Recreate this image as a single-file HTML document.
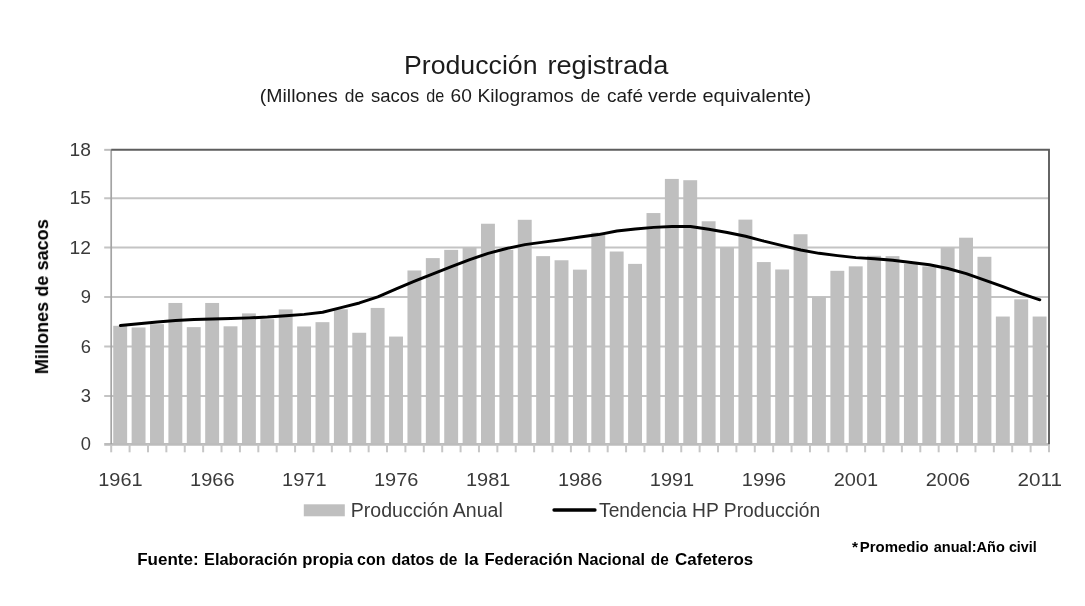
<!DOCTYPE html>
<html lang="es"><head><meta charset="utf-8"><title>Producción registrada</title>
<style>html,body{margin:0;padding:0;background:#fff}body{width:1085px;height:606px;overflow:hidden}svg{display:block}text{font-family:"Liberation Sans",sans-serif}</style></head><body>
<svg width="1085" height="606" viewBox="0 0 1085 606">
<rect width="1085" height="606" fill="#fff"/>
<line x1="104.2" y1="396.10" x2="1049.0" y2="396.10" stroke="#c4c4c4" stroke-width="2"/>
<line x1="104.2" y1="346.60" x2="1049.0" y2="346.60" stroke="#c4c4c4" stroke-width="2"/>
<line x1="104.2" y1="296.95" x2="1049.0" y2="296.95" stroke="#c4c4c4" stroke-width="2"/>
<line x1="104.2" y1="247.50" x2="1049.0" y2="247.50" stroke="#c4c4c4" stroke-width="2"/>
<line x1="104.2" y1="198.20" x2="1049.0" y2="198.20" stroke="#c4c4c4" stroke-width="2"/>
<rect x="113.24" y="325.81" width="13.9" height="118.49" fill="#bfbfbf"/>
<rect x="131.63" y="327.47" width="13.9" height="116.83" fill="#bfbfbf"/>
<rect x="150.02" y="324.16" width="13.9" height="120.14" fill="#bfbfbf"/>
<rect x="168.41" y="302.97" width="13.9" height="141.33" fill="#bfbfbf"/>
<rect x="186.80" y="327.14" width="13.9" height="117.16" fill="#bfbfbf"/>
<rect x="205.19" y="302.97" width="13.9" height="141.33" fill="#bfbfbf"/>
<rect x="223.57" y="326.31" width="13.9" height="117.99" fill="#bfbfbf"/>
<rect x="241.96" y="313.40" width="13.9" height="130.90" fill="#bfbfbf"/>
<rect x="260.35" y="319.19" width="13.9" height="125.11" fill="#bfbfbf"/>
<rect x="278.74" y="309.43" width="13.9" height="134.87" fill="#bfbfbf"/>
<rect x="297.13" y="326.47" width="13.9" height="117.83" fill="#bfbfbf"/>
<rect x="315.51" y="322.17" width="13.9" height="122.13" fill="#bfbfbf"/>
<rect x="333.90" y="309.26" width="13.9" height="135.04" fill="#bfbfbf"/>
<rect x="352.29" y="332.76" width="13.9" height="111.54" fill="#bfbfbf"/>
<rect x="370.68" y="307.94" width="13.9" height="136.36" fill="#bfbfbf"/>
<rect x="389.07" y="336.57" width="13.9" height="107.73" fill="#bfbfbf"/>
<rect x="407.46" y="270.48" width="13.9" height="173.82" fill="#bfbfbf"/>
<rect x="425.84" y="258.11" width="13.9" height="186.19" fill="#bfbfbf"/>
<rect x="444.23" y="249.87" width="13.9" height="194.43" fill="#bfbfbf"/>
<rect x="462.62" y="247.40" width="13.9" height="196.90" fill="#bfbfbf"/>
<rect x="481.01" y="223.74" width="13.9" height="220.56" fill="#bfbfbf"/>
<rect x="499.40" y="249.87" width="13.9" height="194.43" fill="#bfbfbf"/>
<rect x="517.79" y="219.79" width="13.9" height="224.51" fill="#bfbfbf"/>
<rect x="536.17" y="256.14" width="13.9" height="188.16" fill="#bfbfbf"/>
<rect x="554.56" y="260.26" width="13.9" height="184.04" fill="#bfbfbf"/>
<rect x="572.95" y="269.65" width="13.9" height="174.65" fill="#bfbfbf"/>
<rect x="591.34" y="232.61" width="13.9" height="211.69" fill="#bfbfbf"/>
<rect x="609.73" y="251.52" width="13.9" height="192.78" fill="#bfbfbf"/>
<rect x="628.11" y="263.88" width="13.9" height="180.42" fill="#bfbfbf"/>
<rect x="646.50" y="213.05" width="13.9" height="231.25" fill="#bfbfbf"/>
<rect x="664.89" y="178.92" width="13.9" height="265.38" fill="#bfbfbf"/>
<rect x="683.28" y="180.21" width="13.9" height="264.09" fill="#bfbfbf"/>
<rect x="701.67" y="221.27" width="13.9" height="223.03" fill="#bfbfbf"/>
<rect x="720.06" y="247.40" width="13.9" height="196.90" fill="#bfbfbf"/>
<rect x="738.44" y="219.63" width="13.9" height="224.67" fill="#bfbfbf"/>
<rect x="756.83" y="262.07" width="13.9" height="182.23" fill="#bfbfbf"/>
<rect x="775.22" y="269.49" width="13.9" height="174.81" fill="#bfbfbf"/>
<rect x="793.61" y="234.25" width="13.9" height="210.05" fill="#bfbfbf"/>
<rect x="812.00" y="296.85" width="13.9" height="147.45" fill="#bfbfbf"/>
<rect x="830.39" y="270.81" width="13.9" height="173.49" fill="#bfbfbf"/>
<rect x="848.77" y="266.36" width="13.9" height="177.94" fill="#bfbfbf"/>
<rect x="867.16" y="255.81" width="13.9" height="188.49" fill="#bfbfbf"/>
<rect x="885.55" y="256.14" width="13.9" height="188.16" fill="#bfbfbf"/>
<rect x="903.94" y="263.88" width="13.9" height="180.42" fill="#bfbfbf"/>
<rect x="922.33" y="266.36" width="13.9" height="177.94" fill="#bfbfbf"/>
<rect x="940.71" y="247.40" width="13.9" height="196.90" fill="#bfbfbf"/>
<rect x="959.10" y="237.70" width="13.9" height="206.60" fill="#bfbfbf"/>
<rect x="977.49" y="256.80" width="13.9" height="187.50" fill="#bfbfbf"/>
<rect x="995.88" y="316.54" width="13.9" height="127.76" fill="#bfbfbf"/>
<rect x="1014.27" y="299.33" width="13.9" height="144.97" fill="#bfbfbf"/>
<rect x="1032.66" y="316.54" width="13.9" height="127.76" fill="#bfbfbf"/>
<line x1="104.2" y1="444.40" x2="1049.0" y2="444.40" stroke="#bcbcbc" stroke-width="2.6"/>
<line x1="104.2" y1="149.85" x2="111.2" y2="149.85" stroke="#bdbdbd" stroke-width="2"/>
<line x1="111.2" y1="149.75" x2="111.2" y2="445.30" stroke="#a4a4a4" stroke-width="1.7"/>
<line x1="111.20" y1="444.30" x2="111.20" y2="452.30" stroke="#c6c6c6" stroke-width="2"/>
<line x1="129.59" y1="444.30" x2="129.59" y2="452.30" stroke="#c6c6c6" stroke-width="2"/>
<line x1="147.98" y1="444.30" x2="147.98" y2="452.30" stroke="#c6c6c6" stroke-width="2"/>
<line x1="166.36" y1="444.30" x2="166.36" y2="452.30" stroke="#c6c6c6" stroke-width="2"/>
<line x1="184.75" y1="444.30" x2="184.75" y2="452.30" stroke="#c6c6c6" stroke-width="2"/>
<line x1="203.14" y1="444.30" x2="203.14" y2="452.30" stroke="#c6c6c6" stroke-width="2"/>
<line x1="221.53" y1="444.30" x2="221.53" y2="452.30" stroke="#c6c6c6" stroke-width="2"/>
<line x1="239.92" y1="444.30" x2="239.92" y2="452.30" stroke="#c6c6c6" stroke-width="2"/>
<line x1="258.31" y1="444.30" x2="258.31" y2="452.30" stroke="#c6c6c6" stroke-width="2"/>
<line x1="276.69" y1="444.30" x2="276.69" y2="452.30" stroke="#c6c6c6" stroke-width="2"/>
<line x1="295.08" y1="444.30" x2="295.08" y2="452.30" stroke="#c6c6c6" stroke-width="2"/>
<line x1="313.47" y1="444.30" x2="313.47" y2="452.30" stroke="#c6c6c6" stroke-width="2"/>
<line x1="331.86" y1="444.30" x2="331.86" y2="452.30" stroke="#c6c6c6" stroke-width="2"/>
<line x1="350.25" y1="444.30" x2="350.25" y2="452.30" stroke="#c6c6c6" stroke-width="2"/>
<line x1="368.64" y1="444.30" x2="368.64" y2="452.30" stroke="#c6c6c6" stroke-width="2"/>
<line x1="387.02" y1="444.30" x2="387.02" y2="452.30" stroke="#c6c6c6" stroke-width="2"/>
<line x1="405.41" y1="444.30" x2="405.41" y2="452.30" stroke="#c6c6c6" stroke-width="2"/>
<line x1="423.80" y1="444.30" x2="423.80" y2="452.30" stroke="#c6c6c6" stroke-width="2"/>
<line x1="442.19" y1="444.30" x2="442.19" y2="452.30" stroke="#c6c6c6" stroke-width="2"/>
<line x1="460.58" y1="444.30" x2="460.58" y2="452.30" stroke="#c6c6c6" stroke-width="2"/>
<line x1="478.96" y1="444.30" x2="478.96" y2="452.30" stroke="#c6c6c6" stroke-width="2"/>
<line x1="497.35" y1="444.30" x2="497.35" y2="452.30" stroke="#c6c6c6" stroke-width="2"/>
<line x1="515.74" y1="444.30" x2="515.74" y2="452.30" stroke="#c6c6c6" stroke-width="2"/>
<line x1="534.13" y1="444.30" x2="534.13" y2="452.30" stroke="#c6c6c6" stroke-width="2"/>
<line x1="552.52" y1="444.30" x2="552.52" y2="452.30" stroke="#c6c6c6" stroke-width="2"/>
<line x1="570.91" y1="444.30" x2="570.91" y2="452.30" stroke="#c6c6c6" stroke-width="2"/>
<line x1="589.29" y1="444.30" x2="589.29" y2="452.30" stroke="#c6c6c6" stroke-width="2"/>
<line x1="607.68" y1="444.30" x2="607.68" y2="452.30" stroke="#c6c6c6" stroke-width="2"/>
<line x1="626.07" y1="444.30" x2="626.07" y2="452.30" stroke="#c6c6c6" stroke-width="2"/>
<line x1="644.46" y1="444.30" x2="644.46" y2="452.30" stroke="#c6c6c6" stroke-width="2"/>
<line x1="662.85" y1="444.30" x2="662.85" y2="452.30" stroke="#c6c6c6" stroke-width="2"/>
<line x1="681.24" y1="444.30" x2="681.24" y2="452.30" stroke="#c6c6c6" stroke-width="2"/>
<line x1="699.62" y1="444.30" x2="699.62" y2="452.30" stroke="#c6c6c6" stroke-width="2"/>
<line x1="718.01" y1="444.30" x2="718.01" y2="452.30" stroke="#c6c6c6" stroke-width="2"/>
<line x1="736.40" y1="444.30" x2="736.40" y2="452.30" stroke="#c6c6c6" stroke-width="2"/>
<line x1="754.79" y1="444.30" x2="754.79" y2="452.30" stroke="#c6c6c6" stroke-width="2"/>
<line x1="773.18" y1="444.30" x2="773.18" y2="452.30" stroke="#c6c6c6" stroke-width="2"/>
<line x1="791.56" y1="444.30" x2="791.56" y2="452.30" stroke="#c6c6c6" stroke-width="2"/>
<line x1="809.95" y1="444.30" x2="809.95" y2="452.30" stroke="#c6c6c6" stroke-width="2"/>
<line x1="828.34" y1="444.30" x2="828.34" y2="452.30" stroke="#c6c6c6" stroke-width="2"/>
<line x1="846.73" y1="444.30" x2="846.73" y2="452.30" stroke="#c6c6c6" stroke-width="2"/>
<line x1="865.12" y1="444.30" x2="865.12" y2="452.30" stroke="#c6c6c6" stroke-width="2"/>
<line x1="883.51" y1="444.30" x2="883.51" y2="452.30" stroke="#c6c6c6" stroke-width="2"/>
<line x1="901.89" y1="444.30" x2="901.89" y2="452.30" stroke="#c6c6c6" stroke-width="2"/>
<line x1="920.28" y1="444.30" x2="920.28" y2="452.30" stroke="#c6c6c6" stroke-width="2"/>
<line x1="938.67" y1="444.30" x2="938.67" y2="452.30" stroke="#c6c6c6" stroke-width="2"/>
<line x1="957.06" y1="444.30" x2="957.06" y2="452.30" stroke="#c6c6c6" stroke-width="2"/>
<line x1="975.45" y1="444.30" x2="975.45" y2="452.30" stroke="#c6c6c6" stroke-width="2"/>
<line x1="993.84" y1="444.30" x2="993.84" y2="452.30" stroke="#c6c6c6" stroke-width="2"/>
<line x1="1012.22" y1="444.30" x2="1012.22" y2="452.30" stroke="#c6c6c6" stroke-width="2"/>
<line x1="1030.61" y1="444.30" x2="1030.61" y2="452.30" stroke="#c6c6c6" stroke-width="2"/>
<line x1="1049.00" y1="444.30" x2="1049.00" y2="452.30" stroke="#c6c6c6" stroke-width="2"/>
<path d="M111.2 149.75H1049.0V444.30" fill="none" stroke="#5e5e5e" stroke-width="1.9"/>
<path d="M120.39 325.48L138.78 323.66L157.17 322.01L175.56 320.52L193.95 319.52L212.34 319.03L230.72 318.53L249.11 317.87L267.50 317.04L285.89 315.72L304.28 314.39L322.66 312.24L341.05 307.61L359.44 302.97L377.83 296.85L396.22 288.94L414.61 281.19L432.99 273.77L451.38 266.52L469.77 259.60L488.16 253.33L506.55 248.55L524.94 244.61L543.32 242.14L561.71 239.68L580.10 237.05L598.49 234.58L616.88 230.97L635.26 228.99L653.65 227.35L672.04 226.53L690.43 226.53L708.82 229.32L727.21 232.45L745.59 236.23L763.98 241.16L782.37 245.59L800.76 250.04L819.15 253.33L837.54 255.64L855.92 257.62L874.31 258.77L892.70 260.26L911.09 262.56L929.48 264.71L947.86 268.50L966.25 273.61L984.64 280.04L1003.03 286.63L1021.42 293.55L1039.81 299.83" fill="none" stroke="#000" stroke-width="2.95" stroke-linecap="round" stroke-linejoin="round"/>
<g style="filter:blur(0.4px)">
<text x="91.0" y="450.4" font-size="18.6" font-weight="normal" text-anchor="end" fill="#3a3a3a" textLength="10.2" lengthAdjust="spacingAndGlyphs">0</text>
<text x="91.0" y="402.1" font-size="18.6" font-weight="normal" text-anchor="end" fill="#3a3a3a" textLength="10.2" lengthAdjust="spacingAndGlyphs">3</text>
<text x="91.0" y="352.6" font-size="18.6" font-weight="normal" text-anchor="end" fill="#3a3a3a" textLength="10.2" lengthAdjust="spacingAndGlyphs">6</text>
<text x="91.0" y="303.0" font-size="18.6" font-weight="normal" text-anchor="end" fill="#3a3a3a" textLength="10.2" lengthAdjust="spacingAndGlyphs">9</text>
<text x="91.0" y="253.5" font-size="18.6" font-weight="normal" text-anchor="end" fill="#3a3a3a" textLength="21.4" lengthAdjust="spacingAndGlyphs">12</text>
<text x="91.0" y="204.2" font-size="18.6" font-weight="normal" text-anchor="end" fill="#3a3a3a" textLength="21.4" lengthAdjust="spacingAndGlyphs">15</text>
<text x="91.0" y="155.8" font-size="18.6" font-weight="normal" text-anchor="end" fill="#3a3a3a" textLength="21.4" lengthAdjust="spacingAndGlyphs">18</text>
<text x="120.4" y="485.6" font-size="18.6" font-weight="normal" text-anchor="middle" fill="#3a3a3a" textLength="44.4" lengthAdjust="spacingAndGlyphs">1961</text>
<text x="212.3" y="485.6" font-size="18.6" font-weight="normal" text-anchor="middle" fill="#3a3a3a" textLength="44.4" lengthAdjust="spacingAndGlyphs">1966</text>
<text x="304.3" y="485.6" font-size="18.6" font-weight="normal" text-anchor="middle" fill="#3a3a3a" textLength="44.4" lengthAdjust="spacingAndGlyphs">1971</text>
<text x="396.2" y="485.6" font-size="18.6" font-weight="normal" text-anchor="middle" fill="#3a3a3a" textLength="44.4" lengthAdjust="spacingAndGlyphs">1976</text>
<text x="488.2" y="485.6" font-size="18.6" font-weight="normal" text-anchor="middle" fill="#3a3a3a" textLength="44.4" lengthAdjust="spacingAndGlyphs">1981</text>
<text x="580.1" y="485.6" font-size="18.6" font-weight="normal" text-anchor="middle" fill="#3a3a3a" textLength="44.4" lengthAdjust="spacingAndGlyphs">1986</text>
<text x="672.0" y="485.6" font-size="18.6" font-weight="normal" text-anchor="middle" fill="#3a3a3a" textLength="44.4" lengthAdjust="spacingAndGlyphs">1991</text>
<text x="764.0" y="485.6" font-size="18.6" font-weight="normal" text-anchor="middle" fill="#3a3a3a" textLength="44.4" lengthAdjust="spacingAndGlyphs">1996</text>
<text x="855.9" y="485.6" font-size="18.6" font-weight="normal" text-anchor="middle" fill="#3a3a3a" textLength="44.4" lengthAdjust="spacingAndGlyphs">2001</text>
<text x="947.9" y="485.6" font-size="18.6" font-weight="normal" text-anchor="middle" fill="#3a3a3a" textLength="44.4" lengthAdjust="spacingAndGlyphs">2006</text>
<text x="1039.8" y="485.6" font-size="18.6" font-weight="normal" text-anchor="middle" fill="#3a3a3a" textLength="44.4" lengthAdjust="spacingAndGlyphs">2011</text>
<rect x="303.8" y="504.3" width="41" height="12" fill="#bfbfbf"/>
<text x="350.8" y="516.7" font-size="19.4" font-weight="normal" text-anchor="start" fill="#3a3a3a" textLength="152" lengthAdjust="spacingAndGlyphs">Producción Anual</text>
<line x1="554" y1="510" x2="595" y2="510" stroke="#000" stroke-width="3.3" stroke-linecap="round"/>
<text x="599.0" y="516.7" font-size="19.4" font-weight="normal" text-anchor="start" fill="#3a3a3a" textLength="221.2" lengthAdjust="spacingAndGlyphs">Tendencia HP Producción</text>
<text y="74.2" font-size="26.0" font-weight="normal" fill="#1c1c1c"><tspan x="404.0" textLength="133.5" lengthAdjust="spacingAndGlyphs">Producción</tspan> <tspan x="547.4" textLength="120.9" lengthAdjust="spacingAndGlyphs">registrada</tspan></text>
<text y="102.2" font-size="17.7" font-weight="normal" fill="#1c1c1c"><tspan x="259.8" textLength="78.0" lengthAdjust="spacingAndGlyphs">(Millones</tspan> <tspan x="344.7" textLength="19.4" lengthAdjust="spacingAndGlyphs">de</tspan> <tspan x="370.9" textLength="48.4" lengthAdjust="spacingAndGlyphs">sacos</tspan> <tspan x="426.2" textLength="18.0" lengthAdjust="spacingAndGlyphs">de</tspan> <tspan x="450.6" textLength="21.3" lengthAdjust="spacingAndGlyphs">60</tspan> <tspan x="477.4" textLength="96.3" lengthAdjust="spacingAndGlyphs">Kilogramos</tspan> <tspan x="580.8" textLength="19.3" lengthAdjust="spacingAndGlyphs">de</tspan> <tspan x="607.0" textLength="36.0" lengthAdjust="spacingAndGlyphs">café</tspan> <tspan x="648.0" textLength="48.9" lengthAdjust="spacingAndGlyphs">verde</tspan> <tspan x="702.4" textLength="108.7" lengthAdjust="spacingAndGlyphs">equivalente)</tspan></text>
<text y="565.0" font-size="15.7" font-weight="bold" fill="#000"><tspan x="137.2" textLength="61.4" lengthAdjust="spacingAndGlyphs">Fuente:</tspan> <tspan x="204.1" textLength="93.3" lengthAdjust="spacingAndGlyphs">Elaboración</tspan> <tspan x="302.3" textLength="50.8" lengthAdjust="spacingAndGlyphs">propia</tspan> <tspan x="357.1" textLength="28.5" lengthAdjust="spacingAndGlyphs">con</tspan> <tspan x="391.4" textLength="42.9" lengthAdjust="spacingAndGlyphs">datos</tspan> <tspan x="439.2" textLength="18.1" lengthAdjust="spacingAndGlyphs">de</tspan> <tspan x="464.3" textLength="14.3" lengthAdjust="spacingAndGlyphs">la</tspan> <tspan x="484.4" textLength="88.5" lengthAdjust="spacingAndGlyphs">Federación</tspan> <tspan x="577.8" textLength="67.2" lengthAdjust="spacingAndGlyphs">Nacional</tspan> <tspan x="650.8" textLength="17.9" lengthAdjust="spacingAndGlyphs">de</tspan> <tspan x="675.1" textLength="78.2" lengthAdjust="spacingAndGlyphs">Cafeteros</tspan></text>
<text y="551.8" font-size="14.5" font-weight="bold" fill="#000"><tspan x="852.1" textLength="6.0" lengthAdjust="spacingAndGlyphs">*</tspan><tspan x="859.8" textLength="68.9" lengthAdjust="spacingAndGlyphs">Promedio</tspan> <tspan x="933.8" textLength="71.0" lengthAdjust="spacingAndGlyphs">anual:Año</tspan> <tspan x="1008.9" textLength="27.9" lengthAdjust="spacingAndGlyphs">civil</tspan></text>
<text transform="translate(48.1,374.2) rotate(-90)" font-size="19" font-weight="bold" fill="#000" textLength="155" lengthAdjust="spacingAndGlyphs">Millones de sacos</text>
</g>
</svg></body></html>
